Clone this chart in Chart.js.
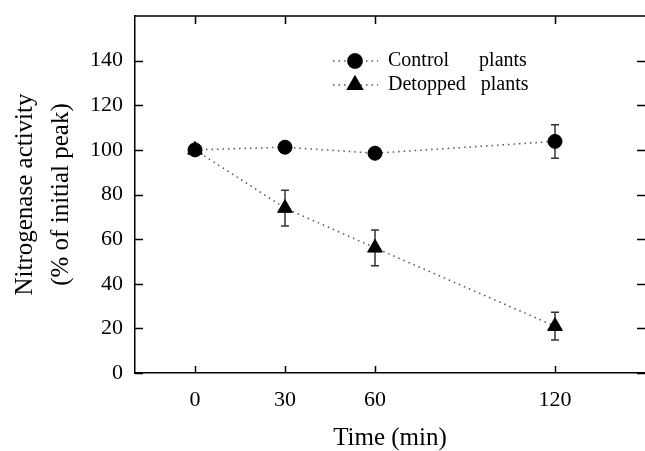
<!DOCTYPE html>
<html>
<head>
<meta charset="utf-8">
<script src="https://cdn.jsdelivr.net/npm/chart.js@4.4.1/dist/chart.umd.min.js"></script>
<style>
  html, body { margin: 0; padding: 0; background: #fff; }
  #wrap { width: 645px; height: 451px; }
</style>
</head>
<body>
<div id="wrap"><canvas id="chart" width="645" height="451"></canvas></div>
<script>
'use strict';

const TIMES = [0, 30, 60, 120];
const CONTROL = [100, 101.2, 98.5, 103.8];
const CONTROL_ERR = [1, 2, 2, 7.5];
const DETOPPED = [100, 73.9, 56.1, 21];
const DETOPPED_ERR = [1, 8, 8, 6.2];
const X_TICKS = [0, 30, 60, 120];
const Y_TICKS = [0, 20, 40, 60, 80, 100, 120, 140];
const LABELS = ['Control      plants', 'Detopped   plants'];

const SERIF = "'Liberation Serif', 'Times New Roman', serif";
const INK = '#000';

Chart.defaults.font.family = SERIF;
Chart.defaults.color = INK;

const toPoints = ys => TIMES.map((t, i) => ({ x: t, y: ys[i] }));

// error bars, drawn under the markers
const errorBars = {
  id: 'errorBars',
  beforeDatasetsDraw(chart) {
    const { ctx, scales: { x, y } } = chart;
    ctx.save();
    ctx.strokeStyle = '#333';
    ctx.lineWidth = 1.5;
    chart.data.datasets.forEach(ds => {
      ds.data.forEach((p, i) => {
        const err = ds.errors[i];
        const px = x.getPixelForValue(p.x);
        const top = y.getPixelForValue(p.y + err);
        const bot = y.getPixelForValue(p.y - err);
        ctx.beginPath();
        ctx.moveTo(px, top); ctx.lineTo(px, bot);
        ctx.moveTo(px - 4, top); ctx.lineTo(px + 4, top);
        ctx.moveTo(px - 4, bot); ctx.lineTo(px + 4, bot);
        ctx.stroke();
      });
    });
    ctx.restore();
  }
};

// inward tick marks on all four sides plus the top frame line
const frameTicks = {
  id: 'frameTicks',
  afterDraw(chart) {
    const { ctx, chartArea: a, scales: { x, y } } = chart;
    ctx.save();
    ctx.strokeStyle = INK;
    ctx.lineWidth = 1.5;
    ctx.beginPath();
    ctx.moveTo(a.left, a.top); ctx.lineTo(a.right, a.top);
    X_TICKS.forEach(v => {
      const px = Math.round(x.getPixelForValue(v)) + 0.5;
      ctx.moveTo(px, a.bottom); ctx.lineTo(px, a.bottom - 7);
      ctx.moveTo(px, a.top); ctx.lineTo(px, a.top + 8);
    });
    Y_TICKS.forEach(v => {
      const py = Math.round(y.getPixelForValue(v)) + 0.5;
      ctx.moveTo(a.left, py); ctx.lineTo(a.left + 8, py);
      ctx.moveTo(a.right, py); ctx.lineTo(a.right - 8, py);
    });
    ctx.stroke();
    ctx.restore();
  }
};

// legend in the plot: dotted line sample with the marker, then the label
const innerLegend = {
  id: 'innerLegend',
  afterDatasetsDraw(chart) {
    const { ctx, chartArea: a } = chart;
    ctx.save();
    chart.data.datasets.forEach((ds, i) => {
      const cy = a.top + 45 + i * 24;
      const x0 = a.left + 198;
      ctx.strokeStyle = ds.borderColor;
      ctx.lineWidth = ds.borderWidth;
      ctx.setLineDash(ds.borderDash);
      ctx.beginPath();
      ctx.moveTo(x0, cy); ctx.lineTo(x0 + 45, cy);
      ctx.stroke();
      ctx.setLineDash([]);
      Chart.helpers.drawPoint(ctx, {
        pointStyle: ds.pointStyle,
        radius: ds.pointRadius,
        borderWidth: ds.pointBorderWidth
      }, x0 + 22, cy);
      ctx.fillStyle = ds.pointBackgroundColor;
      ctx.strokeStyle = ds.pointBorderColor;
      ctx.fill();
      ctx.stroke();
      ctx.fillStyle = INK;
      ctx.font = '20px ' + SERIF;
      ctx.textBaseline = 'middle';
      ctx.fillText(ds.label, x0 + 55, cy);
    });
    ctx.restore();
  }
};

const lineStyle = {
  showLine: true,
  borderColor: '#555',
  borderWidth: 1.5,
  borderDash: [1.5, 4],
  pointBackgroundColor: INK,
  pointBorderColor: INK,
  pointBorderWidth: 1,
  fill: false
};

new Chart(document.getElementById('chart'), {
  type: 'scatter',
  data: {
    datasets: [
      Object.assign({
        label: LABELS[0],
        data: toPoints(CONTROL),
        errors: CONTROL_ERR,
        pointStyle: 'circle',
        pointRadius: 7
      }, lineStyle),
      Object.assign({
        label: LABELS[1],
        data: toPoints(DETOPPED),
        errors: DETOPPED_ERR,
        pointStyle: 'triangle',
        pointRadius: 8.5
      }, lineStyle)
    ]
  },
  options: {
    responsive: false,
    animation: false,
    layout: { autoPadding: false, padding: { top: 16, right: 0, left: 0, bottom: 0 } },
    plugins: {
      legend: { display: false },
      tooltip: { enabled: false }
    },
    scales: {
      x: {
        type: 'linear',
        min: -20,
        max: 150,
        afterBuildTicks: s => { s.ticks = X_TICKS.map(v => ({ value: v })); },
        afterFit: s => { s.height = 78; s.paddingLeft = 0; s.paddingRight = 0; },
        grid: { display: false, drawTicks: false },
        border: { display: true, color: INK, width: 1.5 },
        ticks: { font: { size: 22 }, padding: 14, color: INK },
        title: {
          display: true,
          text: 'Time (min)',
          font: { size: 25, lineHeight: 1 },
          padding: 0,
          color: INK
        }
      },
      y: {
        min: 0,
        max: 160,
        afterBuildTicks: s => { s.ticks = Y_TICKS.map(v => ({ value: v })); },
        afterFit: s => { s.width = 135; s.paddingTop = 0; s.paddingBottom = 0; },
        grid: { display: false, drawTicks: false },
        border: { display: true, color: INK, width: 1.5 },
        ticks: { font: { size: 22 }, padding: 12, color: INK },
        title: {
          display: true,
          text: ['Nitrogenase activity', '(% of initial peak)'],
          font: { size: 25, lineHeight: '36px' },
          padding: { top: 7, bottom: 0 },
          color: INK
        }
      }
    }
  },
  plugins: [errorBars, frameTicks, innerLegend]
});
</script>
</body>
</html>
